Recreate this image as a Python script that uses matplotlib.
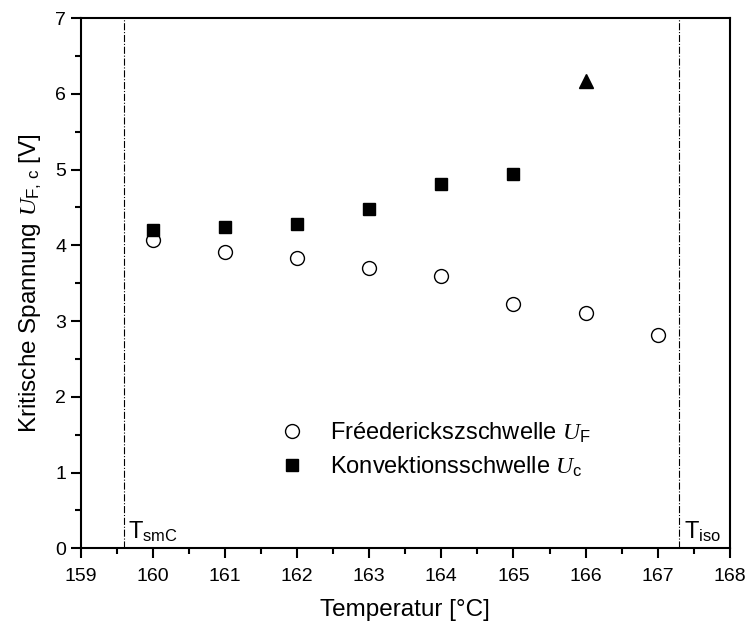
import matplotlib
matplotlib.use("Agg")
import matplotlib.pyplot as plt

plt.rcParams['font.family'] = ['Liberation Sans', 'DejaVu Sans']
plt.rcParams['mathtext.fontset'] = 'custom'
plt.rcParams['mathtext.it'] = 'Liberation Serif:italic'
plt.rcParams['mathtext.rm'] = 'Liberation Sans'

# Daten
temp_F = [160, 161, 162, 163, 164, 165, 166, 167]
U_F = [4.07, 3.91, 3.83, 3.70, 3.59, 3.22, 3.10, 2.81]
temp_c = [160, 161, 162, 163, 164, 165]
U_c = [4.20, 4.24, 4.28, 4.48, 4.81, 4.94]
temp_tri = [166]
U_tri = [6.17]
T_smC = 159.6
T_iso = 167.3

fig = plt.figure(figsize=(7.47, 6.23), dpi=100)
ax = fig.add_axes([0.108, 0.120, 0.869, 0.851])

ax.plot(temp_F, U_F, 'o', mfc='white', mec='black', mew=1.0, ms=10,
        label=r'Fréederickszschwelle $U_\mathrm{F}$')
ax.plot(temp_c, U_c, 's', color='black', ms=8,
        label=r'Konvektionsschwelle $U_\mathrm{c}$')
ax.plot(temp_tri, U_tri, '^', color='black', ms=10)

ax.axvline(T_smC, color='black', lw=0.8, ls='-.')
ax.axvline(T_iso, color='black', lw=0.8, ls='-.')
ax.text(T_smC + 0.05, 0.12, r'T$_\mathrm{smC}$', fontsize=17)
ax.text(T_iso + 0.07, 0.12, r'T$_\mathrm{iso}$', fontsize=17)

ax.set_xlim(159, 168)
ax.set_ylim(0, 7)
ax.set_xticks(range(159, 169))
ax.set_xticks([159.5 + i for i in range(9)], minor=True)
ax.set_yticks(range(0, 8))
ax.set_yticks([0.5 + i for i in range(7)], minor=True)
ax.tick_params(which='both', labelsize=14, width=1.5, direction='out', top=False, right=False)
ax.tick_params(which='major', length=7)
ax.tick_params(which='minor', length=4)
ax.tick_params(axis='x', which='major', pad=7)
for s in ax.spines.values():
    s.set_linewidth(1.5)

ax.set_xlabel('Temperatur [°C]', fontsize=17.5, labelpad=10)
ax.set_ylabel(r'Kritische Spannung $U_\mathrm{F,\,c}$ [V]', fontsize=17.5, labelpad=8)

ax.legend(loc='lower left', bbox_to_anchor=(0.264, 0.10), frameon=False,
          fontsize=17, handletextpad=0.6, borderpad=0.2, labelspacing=0.4)

fig.savefig('out.png', dpi=100)
